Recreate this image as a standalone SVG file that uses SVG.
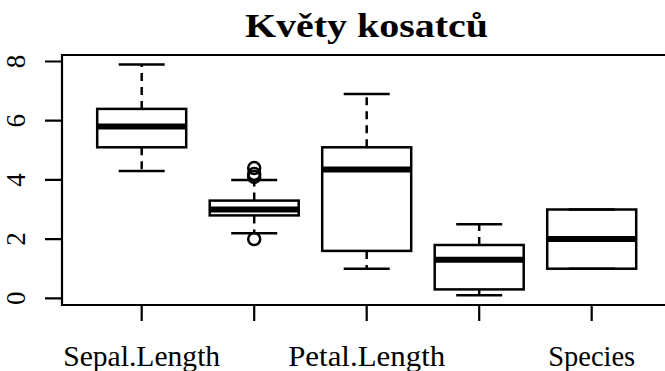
<svg xmlns="http://www.w3.org/2000/svg" width="665" height="371" viewBox="0 0 665 371">
<style>
.ax{stroke:#000;stroke-width:2.2;fill:none;stroke-linecap:butt}
.box{stroke:#000;stroke-width:2.5;fill:#fff}
.med{stroke:#000;stroke-width:6}
.wh{stroke:#000;stroke-width:2.5;stroke-dasharray:8 6;fill:none}
.cap{stroke:#000;stroke-width:2.5}
.out{stroke:#000;stroke-width:2.5;fill:none}
</style>
<rect width="665" height="371" fill="#fff"/>
<text x="366.5" y="37" font-family="Liberation Serif, serif" font-size="33" font-weight="bold" text-anchor="middle" textLength="243" lengthAdjust="spacingAndGlyphs">Květy kosatců</text>
<g id="axes">
<path class="ax" d="M670,55 H62 V305 H670"/>
<path class="ax" d="M45,298.3 H62 M45,239.1 H62 M45,179.9 H62 M45,120.7 H62 M45,61.5 H62"/>
<path class="ax" d="M141.7,305 V321 M254.2,305 V321 M366.7,305 V321 M479.2,305 V321 M591.7,305 V321"/>
<g font-family="Liberation Serif, serif" font-size="27" text-anchor="middle">
<text transform="translate(25,298.3) rotate(-90)">0</text>
<text transform="translate(25,239.1) rotate(-90)">2</text>
<text transform="translate(25,179.9) rotate(-90)">4</text>
<text transform="translate(25,120.7) rotate(-90)">6</text>
<text transform="translate(25,61.5) rotate(-90)">8</text>
</g>
<g font-family="Liberation Serif, serif" font-size="30" text-anchor="middle">
<text x="141.7" y="366" textLength="157" lengthAdjust="spacingAndGlyphs">Sepal.Length</text>
<text x="366.7" y="366" textLength="157" lengthAdjust="spacingAndGlyphs">Petal.Length</text>
<text x="591.7" y="366" textLength="87" lengthAdjust="spacingAndGlyphs">Species</text>
</g>
</g>
<g id="sepal-length">
<path class="wh" d="M141.7,147.3 V171 M141.7,108.9 V64.5"/>
<path class="cap" d="M118.7,171 H164.7 M118.7,64.5 H164.7"/>
<rect class="box" x="97.2" y="108.9" width="89" height="38.4"/>
<path class="med" d="M97.2,126.6 H186.2"/>
</g>
<g id="sepal-width">
<path class="wh" d="M254.2,215.4 V233.2 M254.2,200.6 V179.9"/>
<path class="cap" d="M231.2,233.2 H277.2 M231.2,179.9 H277.2"/>
<rect class="box" x="209.7" y="200.6" width="89" height="14.8"/>
<path class="med" d="M209.7,209.5 H298.7"/>
<circle class="out" cx="254.2" cy="168.1" r="6"/>
<circle class="out" cx="254.2" cy="174" r="6"/>
<circle class="out" cx="254.2" cy="176.9" r="6"/>
<circle class="out" cx="254.2" cy="239.1" r="6"/>
</g>
<g id="petal-length">
<path class="wh" d="M366.7,250.9 V268.7 M366.7,147.3 V94.1"/>
<path class="cap" d="M343.7,268.7 H389.7 M343.7,94.1 H389.7"/>
<rect class="box" x="322.2" y="147.3" width="89" height="103.6"/>
<path class="med" d="M322.2,169.5 H411.2"/>
</g>
<g id="petal-width">
<path class="wh" d="M479.2,289.4 V295.3 M479.2,245 V224.3"/>
<path class="cap" d="M456.2,295.3 H502.2 M456.2,224.3 H502.2"/>
<rect class="box" x="434.7" y="245" width="89" height="44.4"/>
<path class="med" d="M434.7,259.8 H523.7"/>
</g>
<g id="species">
<rect class="box" x="547.2" y="209.5" width="89" height="59.2"/>
<path class="cap" d="M568.7,268.7 H614.7 M568.7,209.5 H614.7"/>
<path class="med" d="M547.2,239.1 H636.2"/>
</g>
</svg>
